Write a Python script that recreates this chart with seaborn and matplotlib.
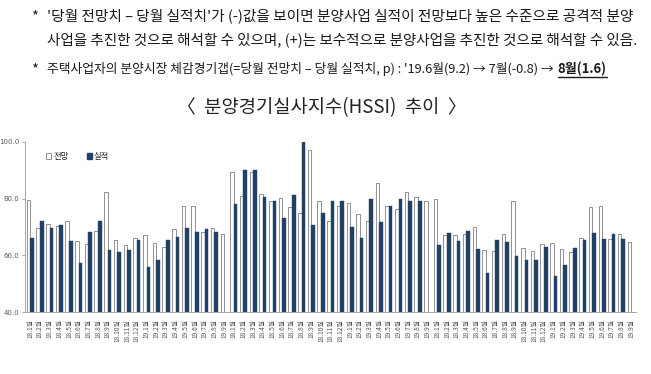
import numpy as np
import pandas as pd
import matplotlib.pyplot as plt
from matplotlib.patches import Patch
from matplotlib.lines import Line2D
import seaborn as sns

# month labels, repeated for the three panels
months = ["18.1월", "18.2월", "18.3월", "18.4월", "18.5월", "18.6월", "18.7월",
          "18.8월", "18.9월", "18.10월", "18.11월", "18.12월", "19.1월", "19.2월",
          "19.3월", "19.4월", "19.5월", "19.6월", "19.7월", "19.8월", "19.9월"]

# panel 1
g1_outlook = [79.6, 69.8, 70.9, 70.3, 72.0, 65.1, 64.2, 68.7, 82.3, 65.3, 63.6,
              66.0, 67.3, 64.4, 63.1, 69.3, 77.3, 77.3, 68.4, 69.7, 67.6]
g1_actual = [66.0, 72.0, 69.7, 70.7, 65.1, 57.2, 68.1, 72.0, 61.9, 61.3, 61.9,
             65.6, 55.8, 58.4, 65.6, 66.5, 69.5, 68.1, 69.2, 68.1, np.nan]
# panel 2
g2_outlook = [89.5, 81.0, 89.4, 81.6, 79.3, 80.2, 77.1, 75.0, 97.1, 79.3, 72.0,
              77.3, 78.6, 74.5, 72.0, 85.4, 77.3, 76.2, 82.3, 80.7, 79.0]
g2_actual = [78.0, 90.1, 90.2, 80.5, 79.1, 73.1, 81.3, 99.9, 70.8, 75.0, 79.2,
             79.2, 70.0, 66.0, 79.7, 71.9, 77.3, 79.7, 79.0, 79.2, np.nan]
# panel 3
g3_outlook = [79.7, 67.2, 67.1, 67.7, 70.1, 62.0, 61.4, 67.4, 79.3, 62.5, 61.5,
              64.0, 64.5, 62.1, 61.2, 66.0, 77.1, 77.4, 65.8, 67.7, 64.9]
g3_actual = [63.6, 67.8, 65.2, 68.5, 62.1, 53.8, 65.3, 64.9, 59.7, 58.4, 58.4,
             62.8, 52.7, 56.7, 62.6, 65.5, 67.9, 65.7, 67.4, 65.8, np.nan]

outlook = g1_outlook + g2_outlook + g3_outlook
actual = g1_actual + g2_actual + g3_actual
labels = months * 3
slots = [f"{i // 21}-{m}" for i, m in enumerate(labels)]

df = pd.DataFrame({
    "slot": slots * 2,
    "kind": ["전망"] * len(slots) + ["실적"] * len(slots),
    "value": outlook + actual,
}).dropna()

sns.set_style("white")
plt.rcParams["font.family"] = ["Noto Sans CJK KR", "DejaVu Sans"]

navy = "#243f64"
fig = plt.figure(figsize=(6.51, 3.74), dpi=100)
ax = fig.add_axes([0.039, 0.165, 0.938, 0.456])

sns.barplot(data=df, x="slot", y="value", hue="kind", order=slots,
            hue_order=["전망", "실적"], palette={"전망": "white", "실적": navy},
            width=0.74, ax=ax, legend=False, saturation=1)
for bar in ax.containers[0]:
    bar.set_edgecolor("#808080")
    bar.set_linewidth(0.6)
for bar in ax.containers[1]:
    bar.set_edgecolor(navy)
    bar.set_linewidth(0.3)

ax.set_ylim(40, 100)
ax.set_xlim(-0.5, len(slots) - 0.5)
ax.set_yticks([40, 60, 80, 100])
ax.set_yticklabels(["40.0", "60.0", "80.0", "100.0"], fontsize=5, color="#595959",
                   family="DejaVu Sans")
ax.set_xticks(range(len(slots)))
ax.set_xticklabels(labels, rotation=90, fontsize=4.8, color="#595959", va="top")
ax.set_xticks(np.arange(-0.5, len(slots), 1), minor=True)
ax.tick_params(axis="x", which="major", length=0, pad=5)
ax.tick_params(axis="x", which="minor", length=23, width=0.6, color="#bfbfbf")
ax.tick_params(axis="y", length=2.5, width=0.6, color="#999999", pad=2, left=True)
ax.set_xlabel("")
ax.set_ylabel("")
for s in ["top", "right"]:
    ax.spines[s].set_visible(False)
for s in ["left", "bottom"]:
    ax.spines[s].set_color("#a6a6a6")
    ax.spines[s].set_linewidth(0.7)

handles = [Patch(facecolor="white", edgecolor="#808080", linewidth=0.6, label="전망"),
           Patch(facecolor=navy, edgecolor=navy, label="실적")]
ax.legend(handles=handles, loc="upper left", bbox_to_anchor=(0.025, 0.975), ncol=2,
          frameon=False, fontsize=6, handlelength=0.6, handleheight=0.6,
          handletextpad=0.2, columnspacing=2.2, borderpad=0.2)

# notes above the chart
W, H = 651, 374
tc = "#1a1a1a"
fig.text(31 / W, 1 - 16 / H, "*", fontsize=10.6, color=tc, va="center")
fig.text(47 / W, 1 - 16 / H,
         "'당월 전망치 – 당월 실적치'가 (-)값을 보이면 분양사업 실적이 전망보다 높은 수준으로 공격적 분양",
         fontsize=10.6, color=tc, va="center")
fig.text(47 / W, 1 - 40 / H,
         "사업을 추진한 것으로 해석할 수 있으며, (+)는 보수적으로 분양사업을 추진한 것으로 해석할 수 있음.",
         fontsize=10.5, color=tc, va="center")
fig.text(31 / W, 1 - 69 / H, "*", fontsize=10.6, color=tc, va="center")
t3 = fig.text(47 / W, 1 - 69 / H,
              "주택사업자의 분양시장 체감경기갭(=당월 전망치 – 당월 실적치, p) : '19.6월(9.2) → 7월(-0.8) →",
              fontsize=9.2, color=tc, va="center")
fig.canvas.draw()
bb = t3.get_window_extent()
t4 = fig.text((bb.x1 + 4) / W, 1 - 69 / H, "8월(1.6)", fontsize=9.4, color=tc,
              va="center", fontweight="bold")
fig.canvas.draw()
bb4 = t4.get_window_extent()
fig.add_artist(Line2D([bb4.x0 / W, bb4.x1 / W], [(bb4.y0 - 1) / H] * 2,
                      transform=fig.transFigure, color=tc, linewidth=1.0))

fig.text(322 / W, 1 - 108 / H, "〈  분양경기실사지수(HSSI)  추이  〉", fontsize=13.5,
         color="#222222", ha="center", va="center")

plt.savefig("out.png", dpi=100)
